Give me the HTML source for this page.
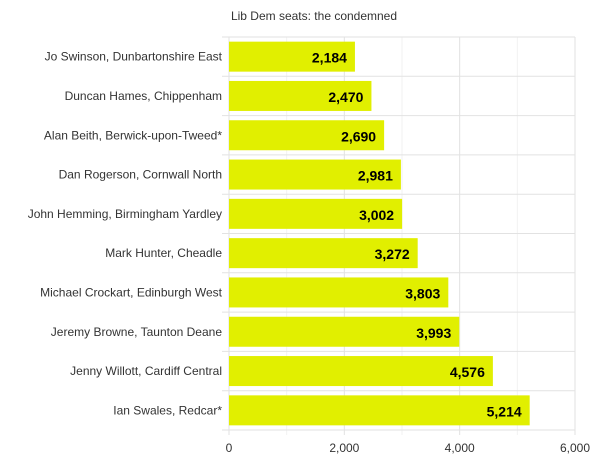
<!DOCTYPE html>
<html><head><meta charset="utf-8"><style>
body{margin:0;background:#fff;font-family:"Liberation Sans",sans-serif;}
svg{display:block}
</style></head><body>
<svg id="chart" width="600" height="463">
<text x="314" y="20" text-anchor="middle" font-size="12" fill="#333">Lib Dem seats: the condemned</text>
<g id="grid"></g><g id="bars"></g><g id="axes"></g>
</svg>
<script>
const categories=["Jo Swinson, Dunbartonshire East","Duncan Hames, Chippenham","Alan Beith, Berwick-upon-Tweed*","Dan Rogerson, Cornwall North","John Hemming, Birmingham Yardley","Mark Hunter, Cheadle","Michael Crockart, Edinburgh West","Jeremy Browne, Taunton Deane","Jenny Willott, Cardiff Central","Ian Swales, Redcar*"];
const values=[2184,2470,2690,2981,3002,3272,3803,3993,4576,5214];
const xTicks=[0,2000,4000,6000];
const xMinor=[1000,3000,5000];
const xMax=6000;
const L=229,R=575,T=37,B=430;
const ns="http://www.w3.org/2000/svg";
const x=v=>L+(R-L)*v/xMax;
const band=(B-T)/categories.length;
const y=i=>T+band*i;
function mk(tag,attrs,parent){const e=document.createElementNS(ns,tag);for(const k in attrs)e.setAttribute(k,attrs[k]);document.getElementById(parent).appendChild(e);return e;}
xMinor.forEach(v=>{const l=mk('line',{x1:x(v),x2:x(v),y1:T,y2:B+5,stroke:'#f2f2f2'},'grid');

});
xTicks.forEach(v=>{const l=mk('line',{x1:x(v),x2:x(v),y1:T,y2:B+5,stroke:'#e2e2e2'},'grid');


const t=mk('text',{x:x(v),y:452,'text-anchor':'middle','font-size':12,fill:'#333'},'axes');t.textContent=v.toLocaleString('en-US');

});
for(let i=0;i<=categories.length;i++){const l=mk('line',{x1:222,x2:R,y1:y(i),y2:y(i),stroke:'#e2e2e2'},'grid');

}
categories.forEach((c,i)=>{const yc=y(i)+band/2;
const b=mk('rect',{x:x(0),y:yc-15,width:x(values[i])-x(0),height:30,fill:'#e1ef00'},'bars');


const v=mk('text',{x:x(values[i])-8,y:yc+6,'text-anchor':'end','font-size':14,'font-weight':'bold',fill:'#000'},'bars');v.textContent=values[i].toLocaleString('en-US');


const t=mk('text',{x:222,y:yc+4,'text-anchor':'end','font-size':12,fill:'#333'},'axes');t.textContent=c;

});
</script>
</body></html>
